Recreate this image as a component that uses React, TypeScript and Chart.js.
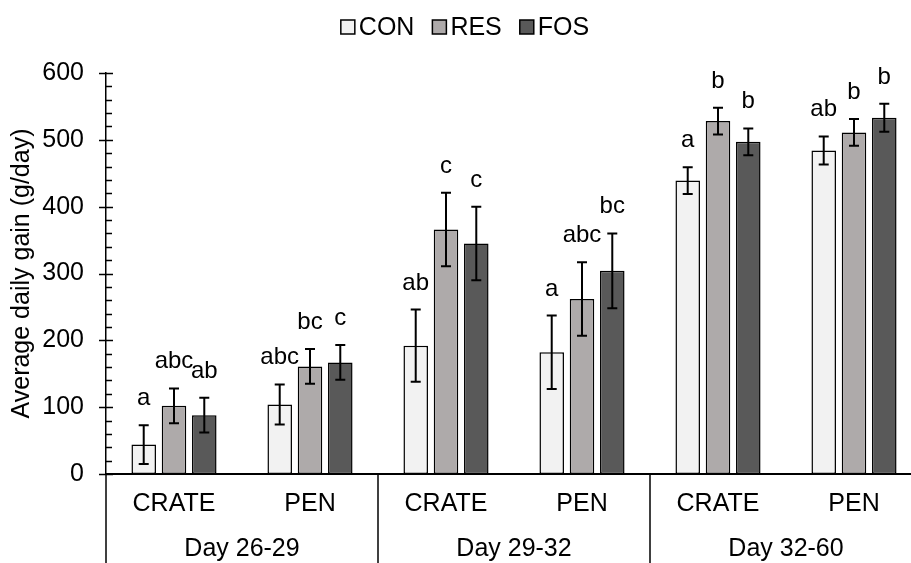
import React, { useEffect, useRef } from "react";
import { Chart, registerables } from "chart.js";
Chart.register(...registerables);

const categories = ["CRATE", "PEN", "CRATE", "PEN", "CRATE", "PEN"];
const groups = ["Day 26-29", "Day 29-32", "Day 32-60"];
const seriesNames = ["CON", "RES", "FOS"];
const conValues = [44, 104, 192, 182, 439, 484];
const conErrors = [29, 30, 54, 55, 20, 21];
const resValues = [102, 161, 366, 262, 528, 511];
const resErrors = [26, 26, 55, 55, 20, 20];
const fosValues = [88, 167, 345, 304, 497, 533];
const fosErrors = [26, 26, 55, 56, 20, 21];
const conLetters = ["a", "abc", "ab", "a", "a", "ab"];
const resLetters = ["abc", "bc", "c", "abc", "b", "b"];
const fosLetters = ["ab", "c", "c", "bc", "b", "b"];
const yMin = 0;
const yMax = 600;
const yStep = 100;
const yMinorStep = 20;

const FONT = "'Liberation Sans', Arial, sans-serif";
const FS = 25;
const LFS = 24;
const colors = ["#f2f2f2", "#aeaaaa", "#595959"];

export default function App() {
  const ref = useRef<HTMLCanvasElement>(null);
  useEffect(() => {
    const canvas = ref.current!;
    const errs = [conErrors, resErrors, fosErrors];
    const letters = [conLetters, resLetters, fosLetters];
    const overlay = {
      id: "overlay",
      afterDatasetsDraw(chart: any) {
        const ctx = chart.ctx;
        const y = chart.scales.y;
        ctx.save();
        chart.data.datasets.forEach((ds: any, di: number) => {
          const meta = chart.getDatasetMeta(di);
          meta.data.forEach((bar: any, i: number) => {
            const v = ds.data[i];
            const e = errs[di][i];
            const top = y.getPixelForValue(v + e);
            const bot = y.getPixelForValue(v - e);
            ctx.strokeStyle = "#000";
            ctx.lineWidth = 2;
            ctx.beginPath();
            ctx.moveTo(bar.x, top);
            ctx.lineTo(bar.x, bot);
            ctx.moveTo(bar.x - 5, top);
            ctx.lineTo(bar.x + 5, top);
            ctx.moveTo(bar.x - 5, bot);
            ctx.lineTo(bar.x + 5, bot);
            ctx.stroke();
            ctx.fillStyle = "#000";
            ctx.font = `${LFS}px ${FONT}`;
            ctx.textAlign = "center";
            ctx.textBaseline = "alphabetic";
            ctx.fillText(letters[di][i], bar.x, top - 20);
          });
        });
        ctx.restore();
      },
      afterDraw(chart: any) {
        const ctx = chart.ctx;
        const x = chart.scales.x;
        const y = chart.scales.y;
        ctx.save();
        ctx.strokeStyle = "#000";
        // y ticks
        const ax = y.right;
        ctx.lineWidth = 1.5;
        ctx.beginPath();
        for (let v = yMin; v <= yMax; v += yMinorStep) {
          const py = Math.round(y.getPixelForValue(v)) + 0.5;
          if (v % yStep === 0) {
            ctx.moveTo(ax - 7, py);
            ctx.lineTo(ax + 7, py);
          } else {
            ctx.moveTo(ax, py);
            ctx.lineTo(ax + 6, py);
          }
        }
        ctx.stroke();
        // separators and group labels
        const catW = (x.right - x.left) / categories.length;
        ctx.lineWidth = 1.5;
        ctx.fillStyle = "#000";
        ctx.font = `${FS}px ${FONT}`;
        ctx.textAlign = "center";
        ctx.textBaseline = "middle";
        groups.forEach((g, gi) => {
          const sx = x.left + gi * 2 * catW;
          ctx.beginPath();
          ctx.moveTo(sx, x.top);
          ctx.lineTo(sx, chart.height);
          ctx.stroke();
          ctx.fillText(g, x.left + (2 * gi + 1) * catW, 549);
        });
        // legend
        const box = 14, gap = 4, spacing = 18;
        const widths = seriesNames.map((n) => ctx.measureText(n).width);
        const total = widths.reduce((a, b) => a + b, 0) + seriesNames.length * (box + gap) + spacing * (seriesNames.length - 1);
        let lx = 465 - total / 2;
        const ly = 27;
        ctx.textAlign = "left";
        seriesNames.forEach((n, i) => {
          ctx.fillStyle = colors[i];
          ctx.fillRect(lx, ly - box / 2, box, box);
          ctx.lineWidth = 1.5;
          ctx.strokeRect(lx, ly - box / 2, box, box);
          ctx.fillStyle = "#000";
          ctx.fillText(n, lx + box + gap, ly + 1);
          lx += box + gap + widths[i] + spacing;
        });
        ctx.restore();
      },
    };
    const valueSets = [conValues, resValues, fosValues];
    const chart = new Chart(canvas, {
      type: "bar",
      data: {
        labels: categories,
        datasets: seriesNames.map((n, i) => ({
          label: n,
          data: valueSets[i],
          backgroundColor: colors[i],
          borderColor: "#000",
          borderWidth: 1.5,
          borderSkipped: false,
          categoryPercentage: 0.668,
          barPercentage: 0.81,
        })),
      },
      options: {
        responsive: false,
        animation: false,
        devicePixelRatio: 1,
        layout: { padding: { top: 73, right: 8, left: 0, bottom: 0 } },
        plugins: { legend: { display: false }, tooltip: { enabled: false } },
        scales: {
          x: {
            grid: { display: false, drawTicks: false },
            border: { display: true, color: "#000", width: 2 },
            ticks: { font: { size: FS, family: FONT }, color: "#000", padding: 15, maxRotation: 0, autoSkip: false },
            afterFit: (s: any) => { s.height = 89; },
          },
          y: {
            min: yMin,
            max: yMax,
            ticks: { stepSize: yStep, font: { size: FS, family: FONT }, color: "#000", padding: 22 },
            grid: { display: false, drawTicks: false },
            border: { display: true, color: "#000", width: 1.5 },
            title: { display: true, text: "Average daily gain (g/day)", font: { size: FS, family: FONT }, color: "#000", padding: { top: 7, bottom: 0 } },
            afterFit: (s: any) => { s.width = 106; },
          },
        },
      },
      plugins: [overlay],
    });
    return () => chart.destroy();
  }, []);
  return (
    <div style={{ position: "fixed", left: 0, top: 0, width: 911, height: 563, overflow: "hidden", background: "#fff" }}>
      <canvas ref={ref} width={930} height={563} style={{ display: "block" }} />
    </div>
  );
}
